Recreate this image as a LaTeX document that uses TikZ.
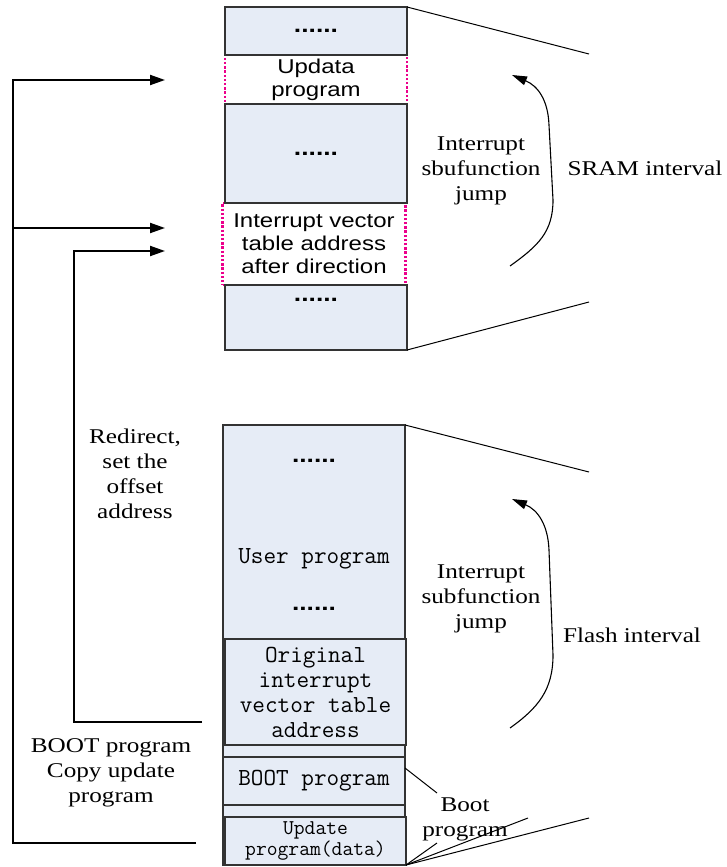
\documentclass[tikz,border=0pt]{standalone}
\usepackage{fontspec}
\usetikzlibrary{arrows.meta}
\newfontfamily\lblfont{Liberation Serif}[FakeStretch=1.2]
\newfontfamily\memfont{Liberation Sans}[FakeStretch=1.2]
\definecolor{memblue}{RGB}{230,236,246}
\tikzset{mem/.style={draw=black!80,line width=1.3pt,fill=memblue,rectangle,anchor=north west,inner sep=0,outer sep=0,minimum width=182pt,align=center}}
\tikzset{newmem/.style={mem,line width=2.4pt,draw=magenta,dash pattern=on 2.4pt off 1.8pt,fill=white}}
\tikzset{sram text/.style={font=\memfont\fontsize{20}{23}\selectfont}}
\tikzset{dots/.style={font=\memfont\bfseries\fontsize{22}{23}\selectfont}}
\tikzset{flash text/.style={font=\ttfamily\fontsize{24.5}{25}\selectfont}}
\tikzset{note/.style={align=center,font=\lblfont\fontsize{21}{25}\selectfont}}
\tikzset{jump/.style={line width=2pt,-{Triangle[length=15pt,width=10pt]}}}
\tikzset{hop/.style={line width=1.1pt,-{Triangle[length=15pt,width=9pt]}}}
\tikzset{zoom line/.style={line width=1pt}}

\begin{document}
\begin{tikzpicture}[x=1pt,y=-1pt]
        \useasboundingbox (0,0) rectangle (727,867);

          %SRAMの列
          \node[newmem, minimum height=49pt] (upd) at (225,55) {};
          \node[newmem, minimum height=82pt, minimum width=183pt] (vec) at (222.5,203) {};
          \node[mem, minimum height=48pt, dots] (stop) at (225,7) {......};
          \node[mem, minimum height=99pt, dots] (smid) at (225,104) {......};
          \node[mem, minimum height=65pt] (sbot) at (225,285) {};
          \node[dots] (sdots) at (316,300) {......};
          \node[sram text, align=center] (updtext) at (316,80) {Updata\\program};
          \node[sram text, align=center] (vectext) at (314,244) {Interrupt vector\\table address\\after direction};

          %Flashの列
          \node[mem, minimum height=440pt] (flash) at (223,425) {};
          \node[mem, minimum height=214pt] (user) at (223,425) {};
          \node[dots] (udots1) at (314,461) {......};
          \node[flash text] (usertext) at (314,559) {User program};
          \node[dots] (udots2) at (314,609) {......};
          \node[mem, minimum height=106pt, minimum width=181pt, flash text] (orig) at (225,639) {Original\\interrupt\\vector table\\address};
          \node[mem, minimum height=48pt, flash text] (boot) at (223,757) {BOOT program};
          \node[mem, minimum height=48pt, minimum width=181pt, font=\ttfamily\fontsize{21}{18}\selectfont] (upddata) at (225,817) {Update\\program(data)};

          %左の矢印
          \coordinate (copyend) at (196,843);
          \coordinate (branch) at (13,228);
          \coordinate (updin) at (165,80);
          \coordinate (vecin) at (165,228);
          \draw[jump] (copyend) -| (13,80) -- (updin);
          \draw[jump] (branch) -- (vecin);
          \coordinate (redirend) at (202,722);
          \coordinate (redirin) at (165,251);
          \draw[jump] (redirend) -| (74,251) -- (redirin);
          \node[note] (redirect) at (135,474) {Redirect,\\set the\\offset\\address};
          \node[note] (copy) at (111,773) {BOOT program\\Copy update\\program};

          %SRAM interval
          \coordinate (stopr) at (589,54);
          \coordinate (sbotr) at (589,302);
          \draw[zoom line] (stop.north east) -- (stopr);
          \draw[zoom line] (sbot.south east) -- (sbotr);
          \coordinate (sjs) at (510,266);
          \coordinate (sje) at (512,75);
          \draw[hop] (sjs) .. controls (538,246) and (553,232) .. (553,200) -- (549,125) .. controls (548,100) and (538,86) .. (sje);
          \node[note] (sjump) at (481,171) {Interrupt\\sbufunction\\jump};
          \node[note] (sram) at (645,168) {SRAM interval};

          %Flash interval
          \coordinate (ftopr) at (589,472);
          \coordinate (fbotr) at (589,818);
          \draw[zoom line] (flash.north east) -- (ftopr);
          \draw[zoom line] (upddata.south east) -- (fbotr);
          \coordinate (fjs) at (510,728);
          \coordinate (fje) at (512,499);
          \draw[hop] (fjs) .. controls (538,708) and (553,690) .. (553,655) -- (549,550) .. controls (548,525) and (538,510) .. (fje);
          \node[note] (fjump) at (481,599) {Interrupt\\subfunction\\jump};
          \node[note] (flashlbl) at (632,635) {Flash interval};

          %Boot program
          \node[note] (bootlbl) at (465,819) {Boot\\program};
          \coordinate (bootl1) at (437,793);
          \coordinate (bootl2) at (437,843);
          \coordinate (bootl3) at (528,818);
          \draw[zoom line] ([yshift=-11pt]boot.north east) -- (bootl1);
          \draw[zoom line] (upddata.south east) -- (bootl2);
          \draw[zoom line] (upddata.south east) -- (bootl3);

        \end{tikzpicture}
\end{document}
